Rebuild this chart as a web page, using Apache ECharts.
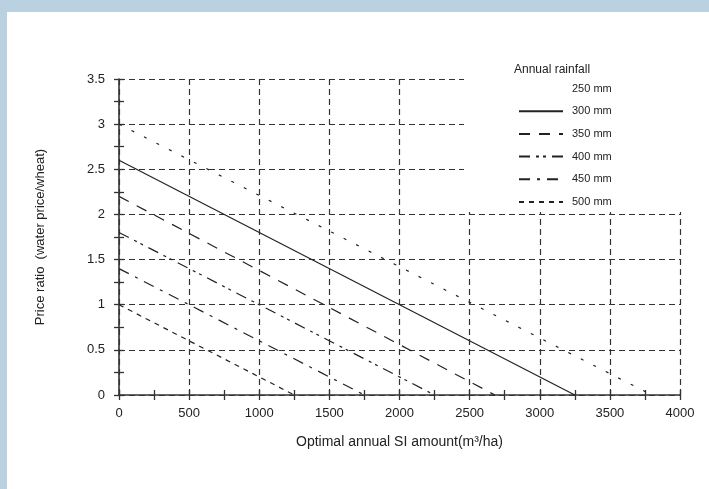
<!DOCTYPE html>
<html>
<head>
<meta charset="utf-8">
<script src="https://cdn.jsdelivr.net/npm/echarts@6/dist/echarts.min.js"></script>
<style>
html,body{margin:0;padding:0;background:#fff;}
#c{width:709px;height:489px;}
</style>
</head>
<body>
<div id="c"></div>
<script>
// ---- data ----
const rainfall = ['250 mm', '300 mm', '350 mm', '400 mm', '450 mm', '500 mm'];
const priceRatioAtZeroSI = [3.0, 2.6, 2.2, 1.8, 1.4, 1.0];   // y at SI = 0
const siAtZeroPriceRatio = [3800, 3250, 2680, 2250, 1750, 1250]; // x where price ratio = 0
const xTicks = [0, 500, 1000, 1500, 2000, 2500, 3000, 3500, 4000];
const yTicks = [0, 0.5, 1, 1.5, 2, 2.5, 3, 3.5];

// ---- styles ----
const dashes = [[3, 11], 'solid', [11, 9], [11, 6, 3, 4, 3, 6], [11, 7, 3, 7], [5, 5]];
const ink = '#222';
const font = 'Liberation Sans';

const chart = echarts.init(document.getElementById('c'), null, {renderer: 'canvas'});

const series = rainfall.map((name, i) => ({
  type: 'line',
  name: name,
  data: [[0, priceRatioAtZeroSI[i]], [siAtZeroPriceRatio[i], 0]],
  symbol: 'none',
  xAxisIndex: 0,
  yAxisIndex: 0,
  z: 5,
  lineStyle: {color: ink, width: 1.2, type: dashes[i]},
  emphasis: {disabled: true},
  silent: true
}));

const xMin = xTicks[0], xMax = xTicks[xTicks.length - 1], xInt = xTicks[1] - xTicks[0];
const yMin = yTicks[0], yMax = yTicks[yTicks.length - 1], yInt = yTicks[1] - yTicks[0];

const grid = {left: 119, right: 29, top: 79, bottom: 94};
const tickStyle = {color: '#333', width: 1.3};

function xAx(primary) {
  return {
    type: 'value', min: xMin, max: xMax, interval: xInt, position: 'bottom',
    gridIndex: primary ? 0 : 1,
    axisLine: {show: primary, onZero: false, lineStyle: {color: '#333', width: 1.6}},
    axisTick: {show: true, inside: !primary, length: 5, lineStyle: tickStyle},
    minorTick: {show: true, splitNumber: 2, length: 5, lineStyle: tickStyle},
    axisLabel: {show: primary, margin: 12, color: ink, fontFamily: font, fontSize: 13, formatter: v => String(v)},
    splitLine: {show: primary, lineStyle: {color: '#333', width: 1.2, type: [6, 4]}},
    name: primary ? 'Optimal annual SI amount(m³/ha)' : '',
    nameLocation: 'middle', nameGap: 40,
    nameTextStyle: {color: ink, fontFamily: font, fontSize: 14}
  };
}
function yAx(primary) {
  return {
    type: 'value', min: yMin, max: yMax, interval: yInt, position: 'left',
    gridIndex: primary ? 0 : 1,
    axisLine: {show: primary, onZero: false, lineStyle: {color: '#333', width: 1.6}},
    axisTick: {show: true, inside: !primary, length: 5, lineStyle: tickStyle},
    minorTick: {show: true, splitNumber: 2, length: 5, lineStyle: tickStyle},
    axisLabel: {show: primary, margin: 14, color: ink, fontFamily: font, fontSize: 13, formatter: v => String(v)},
    splitLine: {show: primary, lineStyle: {color: '#333', width: 1.2, type: [6, 4]}},
    name: primary ? 'Price ratio  (water price/wheat)' : '',
    nameLocation: 'middle', nameGap: 72, nameRotate: 90,
    nameTextStyle: {color: ink, fontFamily: font, fontSize: 13}
  };
}

chart.setOption({
  backgroundColor: '#fff',
  animation: false,
  grid: [grid, Object.assign({}, grid)],
  xAxis: [xAx(true), xAx(false)],
  yAxis: [yAx(true), yAx(false)],
  title: {
    text: 'Annual rainfall', left: 514, top: 64, padding: 0,
    textStyle: {color: ink, fontFamily: font, fontSize: 12, fontWeight: 'normal'}
  },
  legend: {
    orient: 'vertical', left: 518, top: 83, padding: 0,
    itemWidth: 44, itemHeight: 10, itemGap: 11.7,
    itemStyle: {opacity: 0},
    textStyle: {color: ink, fontFamily: font, fontSize: 11, padding: [0, 0, 0, 4]},
    data: rainfall.map((n, i) => i === 0 ? {name: n, lineStyle: {opacity: 0}} : {name: n}),
    selectedMode: false
  },
  graphic: [
    {type: 'rect', left: 464, top: 50, shape: {width: 245, height: 162}, style: {fill: '#fff'}, z: 3, silent: true},
    {type: 'rect', left: 0, top: 0, shape: {width: 709, height: 12}, style: {fill: '#b9d1e0'}, z: 10, silent: true},
    {type: 'rect', left: 0, top: 0, shape: {width: 7, height: 489}, style: {fill: '#b9d1e0'}, z: 10, silent: true}
  ],
  series: series
});
</script>
</body>
</html>
